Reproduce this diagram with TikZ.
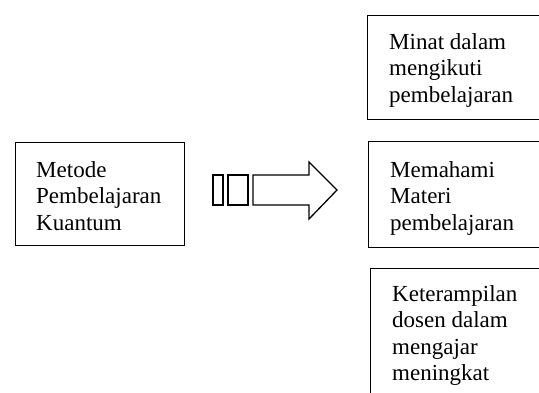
\documentclass[tikz,border=0pt]{standalone}
\usepackage{fontspec}
\setmainfont{Liberation Serif}
\begin{document}
\begin{tikzpicture}[x=1pt,y=-1pt,
  box/.style={draw=black,line width=1.3pt,rectangle,inner sep=0pt,anchor=north west},
  txt/.style={align=left,inner sep=0pt,anchor=north west,font=\fontsize{23}{26.5}\selectfont},
  shp/.style={draw=black,line width=1.3pt,line join=miter}]
\useasboundingbox (0,0) rectangle (539,392);
\clip (0,0) rectangle (539,392);
% boxes
\node[box,minimum width=169pt,minimum height=103pt] (metode) at (15,142) {};
\node[box,minimum width=180pt,minimum height=104pt] (minat) at (367,15) {};
\node[box,minimum width=180pt,minimum height=106pt] (paham) at (368,141) {};
\node[box,minimum width=180pt,minimum height=140pt] (terampil) at (370,268) {};
% texts
\node[txt] (tmetode) at (36,{177-18.55}) {\strut Metode\\Pembelajaran\\Kuantum};
\node[txt] (tminat) at (389,{49-18.55}) {\strut Minat dalam\\mengikuti\\pembelajaran};
\node[txt] (tpaham) at (390,{177-18.55}) {\strut Memahami\\Materi\\pembelajaran};
\node[txt] (tterampil) at (392,{301-18.55}) {\strut Keterampilan\\dosen dalam\\mengajar\\meningkat};
% block arrow
\draw[shp] (213,175) rectangle (223,205);
\draw[shp] (228,175) rectangle (248,205);
\draw[shp] (253,175) -- (309,175) -- (309,162) -- (337,190) -- (309,219) -- (309,205) -- (253,205) -- cycle;
\end{tikzpicture}
\end{document}
